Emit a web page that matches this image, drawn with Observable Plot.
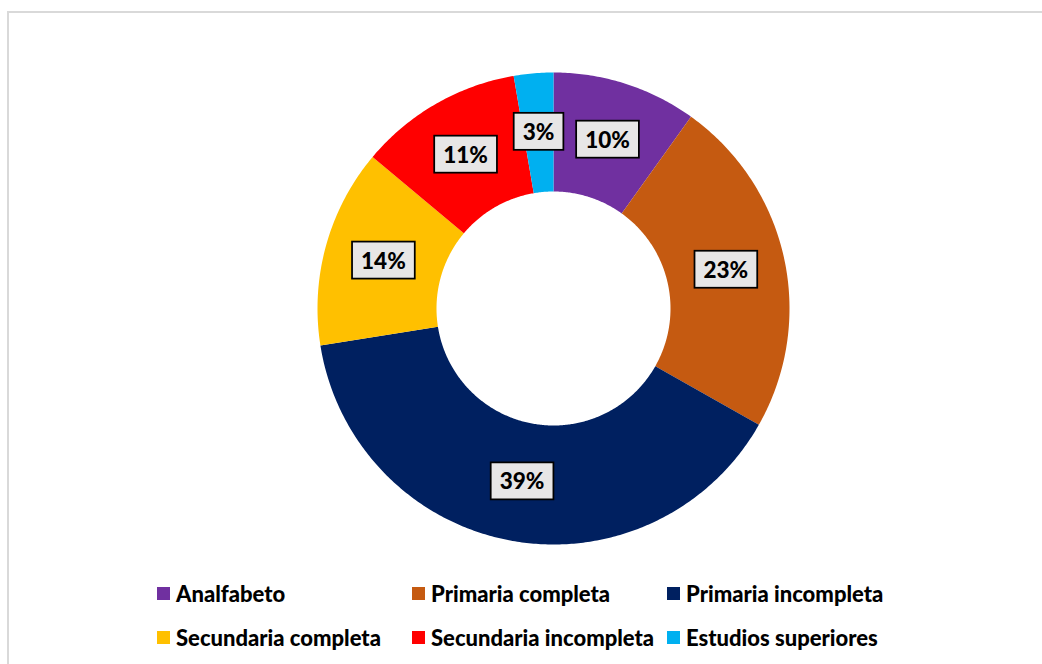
<!DOCTYPE html>
<html>
<head>
<meta charset="utf-8">
<script src="https://cdn.jsdelivr.net/npm/d3@7"></script>
<script src="https://cdn.jsdelivr.net/npm/@observablehq/plot@0.6"></script>
<style>
  html, body { margin: 0; padding: 0; background: #fff; }
  body { width: 1042px; height: 664px; position: relative; overflow: hidden; font-family: Lato, "Open Sans", sans-serif; }
  #frame { position: absolute; left: 7px; top: 11px; width: 1100px; height: 700px; border-left: 2px solid #d9d9d9; border-top: 2px solid #d9d9d9; }
  #chart { position: absolute; left: 0; top: 0; }
  #legend { position: absolute; left: 157px; top: 571px; display: grid; grid-template-columns: 255px 255px 300px; grid-auto-rows: 44px; }
  .item { display: flex; align-items: center; font-weight: 900; font-size: 22px; color: #000; white-space: nowrap; }
  .sw { width: 13px; height: 13px; margin-right: 6px; flex: none; }
</style>
</head>
<body>
<div id="frame"></div>
<div id="chart"></div>
<div id="legend"></div>
<script>
const categories = ["Analfabeto", "Primaria completa", "Primaria incompleta", "Secundaria completa", "Secundaria incompleta", "Estudios superiores"];
const values = [9.9, 23.3, 39.3, 13.6, 11.2, 2.7];
const colors = ["#7030A0", "#C55A11", "#002060", "#FFC000", "#FF0000", "#00B0F0"];

const R = 1, r = 117 / 236, rm = (R + r) / 2;
const pie = d3.pie().sort(null).value(d => d.value);
const arcs = pie(categories.map((c, i) => ({cat: c, value: values[i]})));

const pts = [];
arcs.forEach(a => {
  const n = Math.max(4, Math.ceil((a.endAngle - a.startAngle) / 0.01));
  for (let k = 0; k <= n; k++) {
    const t = a.startAngle + (a.endAngle - a.startAngle) * k / n;
    pts.push({cat: a.data.cat, x: R * Math.sin(t), y: R * Math.cos(t)});
  }
  for (let k = n; k >= 0; k--) {
    const t = a.startAngle + (a.endAngle - a.startAngle) * k / n;
    pts.push({cat: a.data.cat, x: r * Math.sin(t), y: r * Math.cos(t)});
  }
  pts.push({cat: a.data.cat, x: R * Math.sin(a.startAngle), y: R * Math.cos(a.startAngle)});
});

const labels = arcs.map(a => {
  const m = (a.startAngle + a.endAngle) / 2;
  return {cat: a.data.cat, x: rm * Math.sin(m), y: rm * Math.cos(m), text: Math.round(a.data.value) + "%"};
});

const plot = Plot.plot({
  width: 1042,
  height: 560,
  marginLeft: 317,
  marginRight: 253,
  marginTop: 72,
  marginBottom: 16,
  x: {axis: null, domain: [-1, 1]},
  y: {axis: null, domain: [-1, 1]},
  color: {domain: categories, range: colors},
  style: {background: "transparent", overflow: "visible"},
  marks: [
    Plot.line(pts, {x: "x", y: "y", z: "cat", fill: "cat", stroke: "none", curve: "linear"}),
    Plot.text(labels, {x: "x", y: "y", text: "text", fontSize: 22.5, fontWeight: 900, fill: "#000", fontFamily: "Lato, sans-serif", className: "lbl"})
  ]
});
document.getElementById("chart").appendChild(plot);

// label boxes
d3.select(plot).selectAll("g.lbl text").each(function() {
  const b = this.getBBox();
  const padX = 9, padY = 6;
  const tr = this.getAttribute("transform");
  const rect = d3.select(this.parentNode).insert("rect", () => this)
    .attr("x", b.x - padX).attr("y", b.y - padY + 1)
    .attr("width", b.width + 2 * padX).attr("height", b.height + 2 * padY - 2)
    .attr("fill", "#e7e6e6").attr("stroke", "#000").attr("stroke-width", 1.75);
  if (tr) rect.attr("transform", tr);
});

const legend = document.getElementById("legend");
categories.forEach((c, i) => {
  const it = document.createElement("div");
  it.className = "item";
  const sw = document.createElement("span");
  sw.className = "sw";
  sw.style.background = colors[i];
  it.appendChild(sw);
  it.appendChild(document.createTextNode(c));
  legend.appendChild(it);
});
</script>
</body>
</html>
